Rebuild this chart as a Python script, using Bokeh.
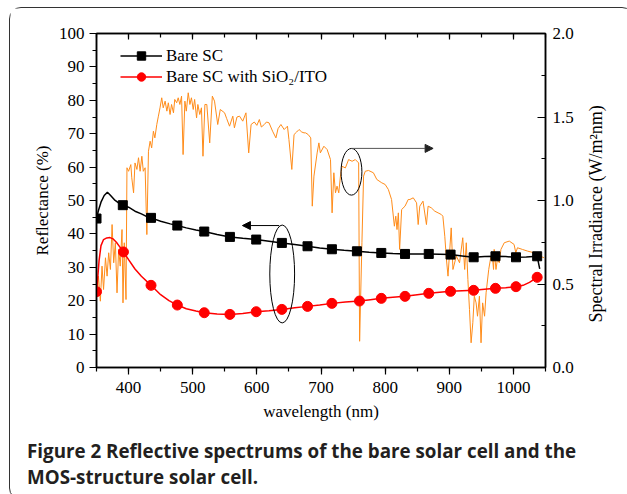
import math
from bokeh.plotting import figure
from bokeh.layouts import column
from bokeh.models import (Range1d, LinearAxis, SingleIntervalTicker, PrintfTickFormatter,
                          Legend, LegendItem, Div, Arrow, NormalHead)
from bokeh.embed import file_html
from bokeh.resources import INLINE

# ---------------- data ----------------
# Bare SC reflectance curve (%)
bare_wl = [350, 353, 357, 362, 367, 372, 378, 385, 391, 400, 410, 420, 427, 435, 450, 465, 476,
           490, 505, 518, 538, 558, 578, 599, 619, 639, 659, 679, 698, 717, 736, 756, 775, 794,
           812, 831, 850, 868, 885, 902, 920, 938, 955, 972, 988, 1004, 1020, 1037, 1041]
bare_refl = [44.6, 47.0, 49.5, 51.5, 52.5, 51.5, 50.2, 49.2, 48.6, 48.0, 46.8, 46.0, 45.3, 44.8,
             43.8, 43.0, 42.5, 41.8, 41.2, 40.7, 39.8, 39.1, 38.7, 38.3, 37.8, 37.3, 36.8, 36.3,
             35.8, 35.4, 35.1, 34.8, 34.5, 34.3, 34.1, 34.0, 34.0, 34.0, 33.9, 33.8, 33.4, 33.0,
             33.2, 33.3, 33.2, 33.0, 33.1, 33.3, 29.5]
bare_mark_wl = [350, 391, 435, 476, 518, 558, 599, 639, 679, 717, 756, 794, 831, 868, 902, 938,
                972, 1004, 1037]
bare_mark_refl = [44.6, 48.6, 44.8, 42.5, 40.7, 39.1, 38.3, 37.3, 36.3, 35.4, 34.8, 34.3, 34.0,
                  34.0, 33.8, 33.0, 33.3, 33.0, 33.3]

# Bare SC with SiO2/ITO reflectance curve (%)
ito_wl = [350, 352, 354, 357, 361, 366, 371, 376, 381, 386, 392, 400, 410, 420, 435, 450, 463,
          476, 490, 505, 518, 538, 558, 578, 599, 619, 639, 659, 679, 698, 717, 738, 760, 777,
          794, 812, 831, 850, 868, 885, 902, 920, 938, 955, 972, 988, 1004, 1015, 1025, 1037]
ito_refl = [22.7, 27.0, 32.0, 36.5, 38.3, 38.8, 38.9, 38.5, 37.5, 36.2, 34.6, 32.3, 29.5, 27.3,
            24.6, 21.8, 20.0, 18.7, 17.6, 16.9, 16.4, 16.0, 15.9, 16.2, 16.7, 17.0, 17.4, 17.9,
            18.3, 18.7, 19.2, 19.6, 19.9, 20.3, 20.7, 21.0, 21.3, 21.8, 22.2, 22.5, 22.8, 23.0,
            23.1, 23.4, 23.7, 23.9, 24.2, 24.6, 25.5, 27.0]
ito_mark_wl = [350, 392, 435, 476, 518, 558, 599, 639, 679, 717, 760, 794, 831, 868, 902, 938,
               972, 1004, 1037]
ito_mark_refl = [22.7, 34.6, 24.6, 18.7, 16.4, 15.9, 16.7, 17.4, 18.3, 19.2, 19.9, 20.7, 21.3,
                 22.2, 22.8, 23.1, 23.7, 24.2, 27.0]

# Solar spectral irradiance (W/m^2 nm)
sun_wl = [350, 351, 353, 356, 358.6, 361, 364, 366.5, 369, 371.7, 374.3, 376.8, 379.4, 382,
          384.5, 387, 389.8, 391.3, 393.3, 396, 397.5, 400, 403.5, 405, 407.8, 410, 413, 415.5,
          418, 420.7, 423, 425.8, 428.5, 431, 433.6, 436, 438.7, 441, 444, 446.5, 449, 451.7,
          454, 457, 459.7, 462, 464.7, 467, 470, 472, 475, 477.4, 480, 482.6, 485, 487.8, 490,
          493, 495.6, 498, 500.8, 503, 506, 508, 511, 513.6, 516, 519, 522, 526.5, 530.6, 534,
          539, 543, 549.7, 553, 557.4, 562.5, 565, 569, 573, 578, 583, 587.3, 591, 596, 600,
          603.9, 607, 611.6, 615, 619, 624.5, 629.7, 633, 637.5, 642.6, 647.7, 650, 654.5, 658,
          662, 665.8, 670, 673.5, 676, 680, 684, 686.4, 689, 694, 696.7, 699, 704.5, 709.6,
          714.8, 717.3, 720, 722.6, 725, 727.7, 730.3, 732.8, 738, 743, 748.5, 753.5, 758.7,
          760.2, 763.8, 766.4, 769, 774, 781.7, 787, 794.7, 800, 805, 810, 814.4, 816.6, 818.5,
          820.6, 822.6, 825.7, 831, 836, 838.6, 843.8, 849, 851.5, 854, 859, 864.4, 867, 872,
          877.4, 882.5, 887.6, 890, 893, 895.5, 898, 903, 905.7, 911, 916, 921, 924, 926.5,
          929, 931.5, 934, 936.7, 939, 941.8, 944, 947, 949.5, 952, 955, 957.4, 961.5, 965,
          967.6, 969, 970, 972.8, 975, 978, 980.5, 985.7, 993.5, 1001, 1003.7, 1006.3, 1014,
          1022, 1032, 1042, 1047.6]
sun_irr = [0.587, 0.427, 0.547, 0.397, 0.607, 0.467, 0.657, 0.547, 0.687, 0.587, 0.856, 0.627,
           0.747, 0.447, 0.707, 0.607, 0.826, 0.387, 0.747, 0.407, 1.196, 1.175, 1.215, 1.136,
           1.046, 1.225, 1.186, 1.256, 1.175, 1.265, 1.175, 1.196, 0.796, 1.295, 1.355, 1.315,
           1.415, 1.375, 1.455, 1.505, 1.555, 1.615, 1.555, 1.595, 1.535, 1.585, 1.515, 1.575,
           1.525, 1.605, 1.585, 1.615, 1.575, 1.625, 1.275, 1.595, 1.535, 1.645, 1.575, 1.615,
           1.545, 1.605, 1.495, 1.575, 1.515, 1.555, 1.265, 1.575, 1.575, 1.345, 1.625, 1.595,
           1.455, 1.545, 1.525, 1.49, 1.445, 1.505, 1.435, 1.5, 1.505, 1.475, 1.525, 1.285,
           1.455, 1.47, 1.45, 1.485, 1.44, 1.455, 1.47, 1.465, 1.415, 1.375, 1.43, 1.455,
           1.425, 1.445, 1.365, 1.186, 1.395, 1.41, 1.425, 1.41, 1.405, 1.405, 1.395, 1.375,
           0.966, 1.146, 1.285, 1.345, 1.285, 1.325, 1.305, 1.245, 0.926, 1.166, 1.046, 1.086,
           1.046, 1.146, 1.205, 1.195, 1.245, 1.235, 1.245, 1.225, 0.157, 0.747, 1.146, 1.175,
           1.18, 1.166, 1.126, 1.106, 1.096, 1.066, 1.006, 0.846, 0.906, 0.826, 0.926, 0.707,
           0.946, 0.966, 1.006, 1.006, 1.016, 0.986, 0.856, 0.966, 0.996, 0.856, 0.966, 0.956,
           0.936, 0.926, 0.916, 0.906, 0.786, 0.65, 0.547, 0.836, 0.587, 0.667, 0.627, 0.777,
           0.587, 0.747, 0.527, 0.347, 0.148, 0.268, 0.427, 0.387, 0.307, 0.427, 0.148, 0.387,
           0.307, 0.447, 0.587, 0.667, 0.647, 0.587, 0.707, 0.587, 0.647, 0.627, 0.707, 0.747,
           0.757, 0.737, 0.687, 0.717, 0.707, 0.697, 0.687, 0.667, 0.657]

# annotations (data units, left axis)
ellipse_x = [639.5, 747.5]
ellipse_y = [28.0, 58.6]
ellipse_w = [38.7, 32.5]
ellipse_h = [29.3, 14.0]
arrow_left = dict(x_start=634.8, y_start=42.5, x_end=577.5, y_end=42.5)
arrow_right = dict(x_start=748.3, y_start=65.6, x_end=874.8, y_end=65.6)

x_ticks_interval = 100
y_ticks_interval = 10
irr_ticks_interval = 0.5

caption_lines = ["Figure 2 Reflective spectrums of the bare solar cell and the",
                 "MOS-structure solar cell."]
right_label = "Spectral Irradiance (W/m\u00b2nm)"

SERIF = "Liberation Serif"
FS = "17px"

# ---------------- figure ----------------
p = figure(width=613, height=415, output_backend="svg", toolbar_location=None,
           x_range=Range1d(350, 1050), y_range=Range1d(0, 100),
           min_border_left=86, min_border_right=78, min_border_top=25, min_border_bottom=56,
           background_fill_color="white", border_fill_color="white")
p.extra_y_ranges = {"irr": Range1d(0, 2)}
p.grid.visible = False
p.outline_line_color = "black"
p.outline_line_width = 1.5

xa = p.xaxis[0]
xa.ticker = SingleIntervalTicker(interval=x_ticks_interval, num_minor_ticks=2)
xa.axis_label = "wavelength (nm)"
ya = p.yaxis[0]
ya.ticker = SingleIntervalTicker(interval=y_ticks_interval, num_minor_ticks=2)
ya.axis_label = "Reflectance (%)"

ra = LinearAxis(y_range_name="irr",
                ticker=SingleIntervalTicker(interval=irr_ticks_interval, num_minor_ticks=2),
                formatter=PrintfTickFormatter(format="%.1f"))
p.add_layout(ra, "right")
ta = LinearAxis(ticker=SingleIntervalTicker(interval=x_ticks_interval, num_minor_ticks=2))
p.add_layout(ta, "above")

for ax in (xa, ya, ra, ta):
    ax.axis_line_color = "black"
    ax.axis_line_width = 1.5
    ax.major_tick_line_color = "black"
    ax.minor_tick_line_color = "black"
    ax.major_tick_line_width = 1.2
    ax.minor_tick_line_width = 1.2
    ax.major_label_text_font = SERIF
    ax.major_label_text_font_size = FS
    ax.major_label_text_color = "black"
    ax.axis_label_text_font = SERIF
    ax.axis_label_text_font_size = FS
    ax.axis_label_text_font_style = "normal"
    ax.axis_label_text_color = "black"

for ax in (xa, ya):
    ax.major_tick_out = 7
    ax.major_tick_in = 0
    ax.minor_tick_out = 4
    ax.minor_tick_in = 0
xa.major_label_standoff = 7
ya.major_label_standoff = 5
xa.axis_label_standoff = 6
ya.axis_label_standoff = 4

ra.major_tick_in = 8
ra.major_tick_out = 0
ra.minor_tick_in = 4
ra.minor_tick_out = 0
ra.major_label_standoff = 7
ra.axis_label_standoff = 19
ra.axis_label_text_font_size = "18px"
if hasattr(ra, "axis_label_align"):
    # read bottom-to-top, anchored at the bottom of the axis
    ra.axis_label_orientation = math.pi / 2
    ra.axis_label_align = "start"
    ra.axis_label = "\u00a0" * 10 + right_label
else:
    ra.axis_label = right_label

ta.major_tick_in = 6
ta.major_tick_out = 0
ta.minor_tick_in = 4
ta.minor_tick_out = 0
ta.major_label_text_alpha = 0
ta.major_label_text_font_size = "1px"

# ---------------- glyphs ----------------
p.line(sun_wl, sun_irr, y_range_name="irr", line_color="#FF8C1A", line_width=1)

bl = p.line(bare_wl, bare_refl, line_color="black", line_width=1.5)
bm = p.scatter(bare_mark_wl, bare_mark_refl, marker="square", size=9,
               fill_color="black", line_color="black")
rl = p.line(ito_wl, ito_refl, line_color="#FF0000", line_width=1.5)
rm = p.scatter(ito_mark_wl, ito_mark_refl, marker="circle", size=10,
               fill_color="#FF0000", line_color="#FF0000")

p.ellipse(x=ellipse_x, y=ellipse_y, width=ellipse_w, height=ellipse_h,
          fill_alpha=0, line_color="black", line_width=1)

p.add_layout(Arrow(end=NormalHead(size=8, fill_color="black", line_color="black"),
                   line_color="black", line_width=1, **arrow_left))
p.add_layout(Arrow(end=NormalHead(size=8, fill_color="#222222", line_color="#222222"),
                   line_color="#555555", line_width=1, **arrow_right))

legend = Legend(items=[LegendItem(label="Bare SC", renderers=[bl, bm]),
                       LegendItem(label="Bare SC with SiO\u2082/ITO", renderers=[rl, rm])],
                location=(24, 280), orientation="vertical",
                glyph_width=42, glyph_height=21, label_height=21, label_standoff=4,
                spacing=0, padding=0, margin=0,
                border_line_alpha=0, background_fill_alpha=0,
                label_text_font=SERIF, label_text_font_size=FS, label_text_color="black")
p.add_layout(legend)

# caption below the plot
caption_html = ('<div style="padding:10px 0 0 12px; font-family:\'Open Sans\'; font-weight:bold; '
                'font-size:18.8px; line-height:26px; color:#231F20; white-space:nowrap;">'
                + "<br>".join(caption_lines) + "</div>")
cap = Div(text=caption_html, width=613, height=66)

layout = column(p, cap, spacing=0,
                styles={"margin-left": "9px", "margin-top": "7px",
                        "border": "1.5px solid #333333", "border-radius": "12px",
                        "background": "white"})

open("out.html", "w").write(file_html(layout, INLINE))
